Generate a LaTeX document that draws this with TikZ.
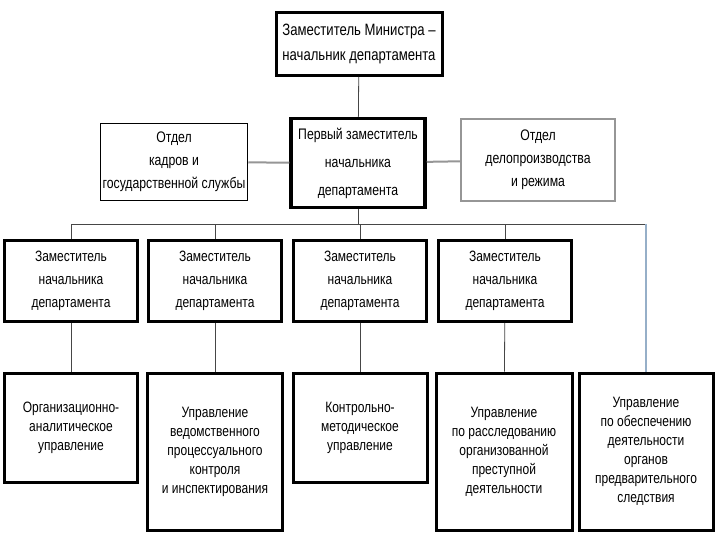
\documentclass[tikz,border=0pt]{standalone}
\usepackage{fontspec}
\setmainfont{Liberation Sans}[FakeStretch=0.8]
\usetikzlibrary{positioning}
\definecolor{linegray}{RGB}{70,70,70}
\definecolor{midgray}{RGB}{150,150,150}
\definecolor{lineblue}{RGB}{150,175,200}

\begin{document}
\begin{tikzpicture}[x=1pt, y=-1pt,
    chief/.style={draw, line width=3pt, align=center, inner sep=0pt},
    dept/.style={draw, align=center, inner sep=0pt},
    txtmain/.style={font={\fontsize{16.4}{25}\selectfont}},
    txtmid/.style={font={\fontsize{15.3}{23}\selectfont}},
    txtfirst/.style={font={\fontsize{15.3}{28}\selectfont}},
    txtdep/.style={font={\fontsize{15}{23}\selectfont}},
    txtlow/.style={font={\fontsize{15}{19}\selectfont}},
    link/.style={linegray, line width=0.8pt}]
        \useasboundingbox (0,0) rectangle (720,540);
        \fill[white] (0,0) rectangle (720,540);
        % head
        \node[chief, txtmain, minimum width=166pt, minimum height=63pt] (minister) at (359,44)
            {Заместитель Министра –\\начальник департамента};
        % second row
        \node[chief, txtfirst, line width=3.5pt, minimum width=134pt, minimum height=89pt] (first) at (358,163)
            {Первый заместитель\\начальника\\департамента};
        \node[dept, txtmid, line width=1.5pt, minimum width=147pt, minimum height=77pt] (cadre) at (174,162)
            {Отдел\\кадров и\\государственной службы};
        \node[dept, txtmid, draw=midgray, line width=1.8pt, minimum width=154pt, minimum height=82pt] (office) at (538,160)
            {Отдел\\делопроизводства\\и режима};
        % deputies
        \foreach \x/\name in {71/dep1, 215/dep2, 360/dep3, 505/dep4}
        \node[chief, txtdep, minimum width=133pt, minimum height=81pt] (\name) at (\x,281)
            {Заместитель\\начальника\\департамента};
        % directorates
        \node[chief, txtlow, minimum width=133pt, minimum height=109pt] (org) at (71,427.5)
            {Организационно-\\аналитическое\\управление};
        \node[chief, txtlow, minimum width=135pt, minimum height=157pt] (proc) at (215,451.5)
            {Управление\\ведомственного\\процессуального\\контроля\\и инспектирования};
        \node[chief, txtlow, minimum width=134pt, minimum height=109pt] (method) at (360,427.5)
            {Контрольно-\\методическое\\управление};
        \node[chief, txtlow, minimum width=136pt, minimum height=157pt] (crime) at (504,451.5)
            {Управление\\по расследованию\\организованной\\преступной\\деятельности};
        \node[chief, txtlow, minimum width=134pt, minimum height=157pt] (inquiry) at (646,451.5)
            {Управление\\по обеспечению\\деятельности\\органов\\предварительного\\следствия};
        % connectors
        \coordinate (bus) at (0,224);
        \draw[link] (minister) -- (first);
        \draw[midgray, line width=2pt] (cadre) -- (first);
        \draw[midgray, line width=2pt] (first) -- (office);
        \draw[link] (first.south) -- (first.south |- bus);
        \draw[link] (dep1.north) -- (dep1.north |- bus) -- (inquiry.north |- bus);
        \foreach \name in {dep2, dep3, dep4}
        \draw[link] (\name.north) -- (\name.north |- bus);
        \draw[lineblue, line width=1.2pt] (inquiry.north |- bus) -- (inquiry.north);
        \draw[link] (dep1) -- (org);
        \draw[link] (dep2) -- (proc);
        \draw[link] (dep3) -- (method);
        \draw[link] (dep4) -- (crime);
    \end{tikzpicture}
\end{document}
